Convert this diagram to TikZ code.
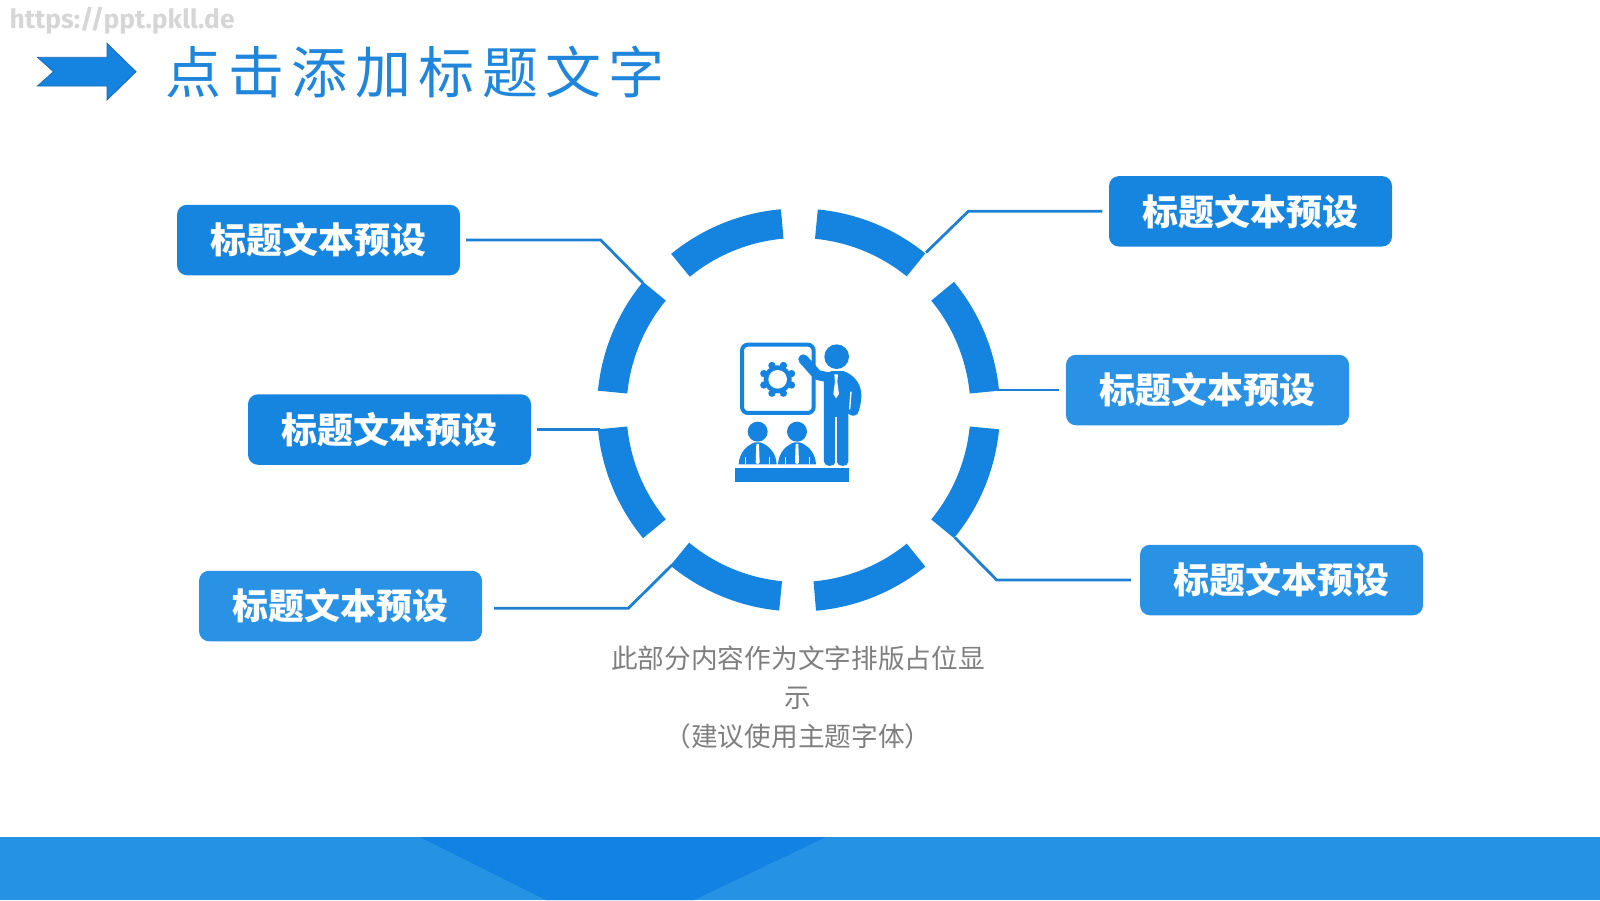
\documentclass[tikz,border=0pt]{standalone}
\usepackage{fontspec}
\setmainfont{Noto Sans CJK SC}
\newfontfamily\urlfont{Fira Sans}[BoldFont=* Bold]
\definecolor{ringblue}{HTML}{1484E0}
\definecolor{boxdark}{HTML}{1685E0}
\definecolor{boxlight}{HTML}{2A92E4}
\definecolor{connblue}{HTML}{1E80D2}
\definecolor{titleblue}{HTML}{1F86DC}
\definecolor{bandblue}{HTML}{2692E4}
\definecolor{banddark}{HTML}{1283E2}
\definecolor{capgray}{HTML}{7F7F7F}
\definecolor{urlgray}{HTML}{D6D6D6}
\definecolor{arrowedge}{HTML}{1A6AB0}
\tikzset{
  x=1pt,y=-1pt,
  labelbox/.style={rounded corners=10pt,minimum width=283pt,minimum height=70.5pt,inner sep=0pt,text=white,
    font=\bfseries\fontsize{35.9}{36}\selectfont},
  conn/.style={draw=connblue,line width=2.8pt,line join=miter},
  seg/.style={fill=ringblue,draw=none},
}
\newcommand{\ringseg}[2]{\fill[seg] (#1:201.5pt) arc[start angle=#1,end angle=#2,radius=201.5pt] -- (#2:172pt) arc[start angle=#2,end angle=#1,radius=172pt] -- cycle;}
\begin{document}
\begin{tikzpicture}
\useasboundingbox (0,0) rectangle (1600,900);
% band
\fill[bandblue] (0,837) rectangle (1600,900);
\fill[banddark] (420,837) -- (826,837) -- (694,900) -- (546,900) -- cycle;
% watermark
\node[anchor=west,inner sep=0pt,text=urlgray,font=\urlfont\bfseries\fontsize{26.4}{28}\selectfont] (url) at (9.5,21) {https://ppt.pkll.de};
% title arrow
\fill[ringblue,draw=arrowedge,line width=0.8pt] (37.5,57.3) -- (107,57.3) -- (107,43.3) -- (136,71.7) -- (107,100) -- (107,86) -- (37.5,86) -- (53.5,71.7) -- cycle;
% title
\node[anchor=west,inner sep=0pt,text=titleblue,font=\fontsize{56}{56}\selectfont] (title) at (165,72)
 {点\hspace{7.4pt}击\hspace{7.4pt}添\hspace{7.4pt}加\hspace{7.4pt}标\hspace{7.4pt}题\hspace{7.4pt}文\hspace{7.4pt}字};
% ring
\begin{scope}[shift={(798.5,410)}]
\ringseg{95}{129.2}
\ringseg{51}{84.5}
\ringseg{5.5}{39.5}
\ringseg{-39.5}{-5.5}
\ringseg{-85}{-51}
\ringseg{-129.5}{-95.5}
\ringseg{-174.5}{-140.5}
\ringseg{140.5}{174.5}
\end{scope}
% boxes
\node[labelbox,fill=boxdark]  (tl) at (318.5,240) {\raisebox{-0.5pt}{标题文本预设}};
\node[labelbox,fill=boxdark]  (ml) at (389.5,429.5) {\raisebox{-0.5pt}{标题文本预设}};
\node[labelbox,fill=boxlight] (bl) at (340.5,606)   {\raisebox{-0.5pt}{标题文本预设}};
\node[labelbox,fill=boxdark]  (tr) at (1250.5,211.3){\raisebox{-0.5pt}{标题文本预设}};
\node[labelbox,fill=boxlight] (mr) at (1207.5,390){\raisebox{-0.5pt}{标题文本预设}};
\node[labelbox,fill=boxlight] (br) at (1281.5,580){\raisebox{-0.5pt}{标题文本预设}};
% connector ends
\coordinate (tlk) at (600.7,240);  \coordinate (tle) at (643,283);
\coordinate (mle) at (600,429.5);
\coordinate (blk) at (628.3,608.3); \coordinate (ble) at (672,565);
\coordinate (trk) at (968.3,211.3); \coordinate (tre) at (926,252.5);
\coordinate (mre) at (998,390);
\coordinate (brk) at (996.7,580);  \coordinate (bre) at (955,537.7);
\draw[conn,shorten <=6pt] (tl.east) -- (tlk) -- (tle);
\draw[conn,shorten <=6pt] (ml.east) -- (mle);
\draw[conn,shorten <=12pt] ([yshift=-2.3pt]bl.east) -- (blk) -- (ble);
\draw[conn,shorten <=6.5pt] (tr.west) -- (trk) -- (tre);
\draw[conn,shorten <=7pt] (mr.west) -- (mre);
\draw[conn,shorten <=9pt] (br.west) -- (brk) -- (bre);
% caption
\node[align=center,inner sep=0pt,text=capgray,font=\fontsize{26.67}{39}\selectfont] (cap) at (798,697.5)
 {此部分内容作为文字排版占位显\\示\\（建议使用主题字体）};
% icon (coordinates in 3x crop units)
\begin{scope}[shift={(700,320)},x=0.3333pt,y=-0.3333pt]
  \draw[ringblue,line width=4pt,rounded corners=6pt] (126,74) rectangle (341,279);
  % gear
  \fill[ringblue] (233,178) circle[radius=42];
  \foreach \a in {22.5,67.5,...,337.5}
    \fill[ringblue] ({233+45*cos(\a)},{178+45*sin(\a)}) circle[radius=11];
  \fill[white] (233,178) circle[radius=28];
  % presenter
  \fill[ringblue] (410,110) circle[radius=37];
  \draw[ringblue,line width=10pt,line cap=round,line join=round] (310,118) -- (352,165) -- (385,172);
  \fill[ringblue] (372,163) -- (395,153) -- (430,153) .. controls (465,165) and (484,195) .. (484,225)
     .. controls (484,250) and (477,275) .. (472,282) .. controls (465,290) and (450,288) .. (445,280)
     -- (445,425) .. controls (445,442) and (412,442) .. (410,425)
     -- (407,425) .. controls (405,442) and (372,442) .. (372,425) -- cycle;
  \fill[white] (406.5,290) rectangle (410.5,440);
  \fill[white] (451,215) -- (455,215) -- (451,268) -- (447,268) -- cycle;
  \fill[white] (403,163) -- (414,163) -- (412,185) -- (417,222) -- (408,235) -- (400,222) -- (405,185) -- cycle;
  % audience
  \foreach \c in {173,291}{
    \fill[ringblue] (\c,335) circle[radius=30];
    \fill[ringblue] ({\c-57},433) .. controls ({\c-55},395) and ({\c-30},375) .. ({\c-8},367)
       -- ({\c+8},367) .. controls ({\c+30},375) and ({\c+55},395) .. ({\c+57},433) -- cycle;
    \fill[white] ({\c-4},372) -- ({\c+4},372) -- ({\c+6},428) -- (\c,433) -- ({\c-6},428) -- cycle;
    \fill[white] ({\c-37},410) rectangle ({\c-34.5},433);
    \fill[white] ({\c+34.5},410) rectangle ({\c+37},433);
  }
  \fill[ringblue] (105,444) rectangle (447,486);
\end{scope}
\end{tikzpicture}
\end{document}
